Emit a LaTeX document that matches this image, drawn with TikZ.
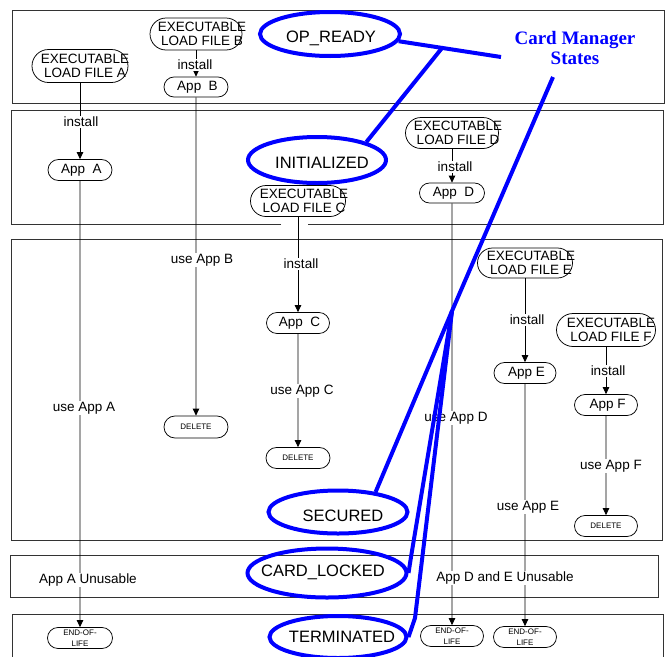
\documentclass[tikz,border=0pt]{standalone}
\usepackage{fontspec}
\setmainfont{Liberation Sans}
\newfontfamily\cmserif{Liberation Serif}
\usetikzlibrary{shapes.misc,shapes.geometric,arrows.meta}
\begin{document}
\begin{tikzpicture}[x=1pt,y=-1pt,
  band/.style={draw=black!80, line width=0.9pt},
  pill/.style={draw=black, rounded rectangle, line width=0.75pt, inner sep=0pt, fill=white},
  txt/.style={font=\fontsize{13.5}{14}\selectfont, align=center, inner sep=0pt},
  tinytxt/.style={font=\fontsize{8}{10.5}\selectfont, align=center},
  lab/.style={fill=white, inner sep=0.6pt, font=\fontsize{13.5}{14}\selectfont},
  conn/.style={draw=black, line width=0.8pt, -{Triangle[length=7pt,width=6.5pt]}},
  stateell/.style={ellipse, draw=blue, line width=4pt, inner sep=0pt},
  stxt/.style={font=\fontsize{16.5}{18}\selectfont, inner sep=0pt},
  cmline/.style={draw=blue, line width=4pt, line join=round},
]
\useasboundingbox (0,0) rectangle (666,656);
% bands
\draw[band] (12,10) rectangle (664,103);
\draw[band] (281,224) -- (11,224) -- (11,110) -- (663,110) -- (663,224) -- (308,224);
\draw[band] (11,239) rectangle (662,540);
\draw[band] (10,555) rectangle (658,597);
\draw[band] (12,614) rectangle (663,664);
% load files
\node[pill, minimum width=96pt, minimum height=33pt, label={[txt,xshift=5pt]center:EXECUTABLE\\LOAD FILE A}] (fileA) at (80,66) {};
\node[pill, minimum width=92pt, minimum height=32pt, label={[txt,xshift=6pt]center:EXECUTABLE\\LOAD FILE B}] (fileB) at (196,34) {};
\node[pill, minimum width=95pt, minimum height=31pt, label={[txt,xshift=6pt]center:EXECUTABLE\\LOAD FILE C}] (fileC) at (298,201) {};
\node[pill, minimum width=93pt, minimum height=31pt, label={[txt,xshift=6pt]center:EXECUTABLE\\LOAD FILE D}] (fileD) at (452,133) {};
\node[pill, minimum width=95pt, minimum height=30pt, label={[txt,xshift=6pt]center:EXECUTABLE\\LOAD FILE E}] (fileE) at (525,263) {};
\node[pill, minimum width=99pt, minimum height=33pt, label={[txt,xshift=5pt]center:EXECUTABLE\\LOAD FILE F}] (fileF) at (606,330) {};
% applications
\node[pill, txt, minimum width=64pt, minimum height=21pt] (appA) at (80,170) {\hspace*{3pt}App\ \ A};
\node[pill, txt, minimum width=64pt, minimum height=20pt] (appB) at (196,87) {\hspace*{3pt}App\ \ B};
\node[pill, txt, minimum width=63pt, minimum height=21pt] (appC) at (298,323) {\hspace*{3pt}App\ \ C};
\node[pill, txt, minimum width=65pt, minimum height=20pt] (appD) at (452,193) {\hspace*{3pt}App\ \ D};
\node[pill, txt, minimum width=62pt, minimum height=21pt] (appE) at (525,373) {\hspace*{3pt}App E};
\node[pill, txt, minimum width=63pt, minimum height=21pt] (appF) at (606,405) {\hspace*{3pt}App F};
% end nodes
\node[pill, tinytxt, minimum width=64pt, minimum height=22pt] (delB) at (196,427) {DELETE};
\node[pill, tinytxt, minimum width=64pt, minimum height=21pt] (delC) at (298,458) {DELETE};
\node[pill, tinytxt, minimum width=63pt, minimum height=21pt] (delF) at (606,526) {DELETE};
\node[pill, tinytxt, minimum width=65pt, minimum height=21pt] (eolA) at (80,638) {END-OF-\\LIFE};
\node[pill, tinytxt, minimum width=63pt, minimum height=21pt] (eolD) at (452,636) {END-OF-\\LIFE};
\node[pill, tinytxt, minimum width=63pt, minimum height=21pt] (eolE) at (525,637) {END-OF-\\LIFE};
% connectors
\draw[conn] (fileA) -- (appA);
\draw[conn] (appA) -- (eolA);
\draw[conn] (fileB) -- (appB);
\draw[conn] (appB) -- (delB);
\draw[conn] (fileC) -- (appC);
\draw[conn] (appC) -- (delC);
\draw[conn] (fileD) -- (appD);
\draw[conn] (appD) -- (eolD);
\draw[conn] (fileE) -- (appE);
\draw[conn] (appE) -- (eolE);
\draw[conn] (fileF) -- (appF);
\draw[conn] (appF) -- (delF);
% connector labels
\node[lab] (installA) at (81,122) {install};
\node[lab] (installB) at (195,65) {install};
\node[lab] (installC) at (301,264) {install};
\node[lab] (installD) at (455,167) {install};
\node[lab] (installE) at (527,320) {install};
\node[lab] (installF) at (608,371) {install};
\node[lab] (useA) at (84,408) {use App A};
\node[lab] (useB) at (202,260) {use App B};
\node[lab] (useC) at (302,391) {use App C};
\node[lab] (useD) at (456,418) {use App D};
\node[lab] (useE) at (528,507) {use App E};
\node[lab] (useF) at (611,466) {use App F};
\node[lab] (unusA) at (88,580) {App A Unusable};
\node[lab] (unusDE) at (505,578) {App D and E Unusable};
% card manager states
\node[stateell, minimum width=140pt, minimum height=44pt, label={[stxt,xshift=1pt,yshift=-4pt]center:OP\_READY}] (opready) at (330,34) {};
\node[stateell, minimum width=138pt, minimum height=46pt, label={[stxt,xshift=5pt,yshift=-3pt]center:INITIALIZED}] (initialized) at (317,160) {};
\node[stateell, minimum width=139pt, minimum height=43pt, label={[stxt,xshift=5pt,yshift=-4pt]center:SECURED}] (secured) at (338,512) {};
\node[stateell, minimum width=159pt, minimum height=49pt, label={[stxt,xshift=-4pt,yshift=1pt]center:CARD\_LOCKED}] (cardlocked) at (327,573) {};
\node[stateell, minimum width=137pt, minimum height=42pt, label={[stxt,xshift=4pt]center:TERMINATED}] (terminated) at (338,637) {};
\node[font=\cmserif\bfseries\fontsize{19}{20}\selectfont, text=blue, align=center, inner sep=0pt] (cms) at (575,48) {Card Manager\\States};
\coordinate (cmA) at (501,57);
\coordinate (cmB) at (442,48);
\coordinate (cmS) at (553,77);
\coordinate (cmJ) at (452,311);
\coordinate (cmL) at (411,557);
\coordinate (cmT) at (415,618);
\draw[cmline] (opready.-6) -- (cmA);
\draw[cmline] (cmB) -- (initialized.20);
\draw[cmline] (cmS) -- (cmJ) -- (secured.28);
\draw[cmline] (cmJ) -- (cmL) -- (cardlocked.east);
\draw[cmline] (cmJ) -- (cmT) -- (terminated.east);
\end{tikzpicture}
\end{document}
